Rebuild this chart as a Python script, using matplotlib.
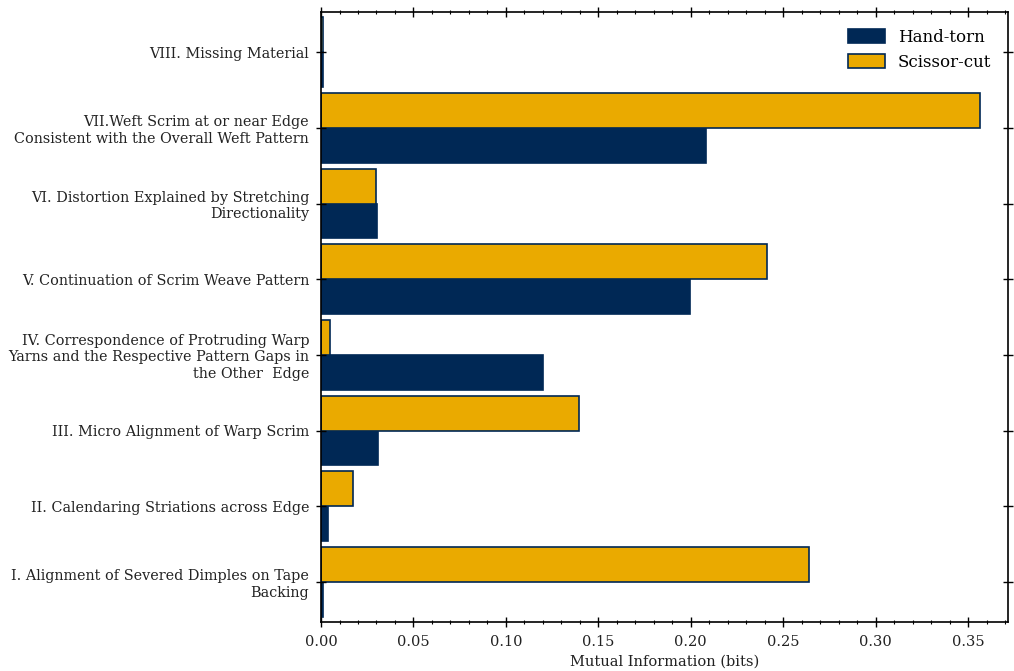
import matplotlib
matplotlib.use("Agg")
import matplotlib.pyplot as plt
from matplotlib.ticker import MultipleLocator
import numpy as np

categories = [
    "I. Alignment of Severed Dimples on Tape\nBacking",
    "II. Calendaring Striations across Edge",
    "III. Micro Alignment of Warp Scrim",
    "IV. Correspondence of Protruding Warp\nYarns and the Respective Pattern Gaps in\nthe Other  Edge",
    "V. Continuation of Scrim Weave Pattern",
    "VI. Distortion Explained by Stretching\nDirectionality",
    "VII.Weft Scrim at or near Edge\nConsistent with the Overall Weft Pattern",
    "VIII. Missing Material",
]
hand_torn = [0.0011, 0.0038, 0.0308, 0.1201, 0.1996, 0.0303, 0.2083, 0.0012]
scissor_cut = [0.2640, 0.0173, 0.1396, 0.0049, 0.2410, 0.0298, 0.3565, 0.0012]

navy = "#002855"
gold = "#EAAA00"

plt.rcParams["font.family"] = "DejaVu Serif"

fig = plt.figure(figsize=(10.14, 6.71), dpi=100)
ax = fig.add_axes([0.3166, 0.073, 0.6775, 0.909])

y = np.arange(len(categories))
h = 0.46
ax.barh(y - h / 2, hand_torn, height=h, color=navy, edgecolor=navy,
        linewidth=1.2, label="Hand-torn")
ax.barh(y + h / 2, scissor_cut, height=h, color=gold, edgecolor=navy,
        linewidth=1.2, label="Scissor-cut")

ax.set_yticks(y)
ax.set_yticklabels(categories, fontsize=10.4, color="#222222")
ax.set_ylim(-0.53, len(categories) - 1 + 0.53)
ax.set_xlim(0, 0.3716)
ax.xaxis.set_major_locator(MultipleLocator(0.05))
ax.xaxis.set_minor_locator(MultipleLocator(0.01))
ax.set_xlabel("Mutual Information (bits)", fontsize=10.5, color="#222222",
              labelpad=4)

ax.tick_params(axis="both", which="major", direction="inout", length=7,
               width=1.0, top=True, right=True, labelsize=10.4,
               labelcolor="#222222", pad=5)
ax.tick_params(axis="x", which="major", labelsize=10.5, pad=6)
ax.tick_params(axis="x", which="minor", direction="inout", length=3.5,
               width=0.8, top=True, bottom=True)
ax.tick_params(axis="y", which="minor", left=False, right=False)
for s in ax.spines.values():
    s.set_linewidth(1.2)

ax.legend(loc="upper right", frameon=False, fontsize=12,
          handlelength=2.2, handleheight=0.9, borderaxespad=0.6)

fig.savefig("out.png", dpi=100)
